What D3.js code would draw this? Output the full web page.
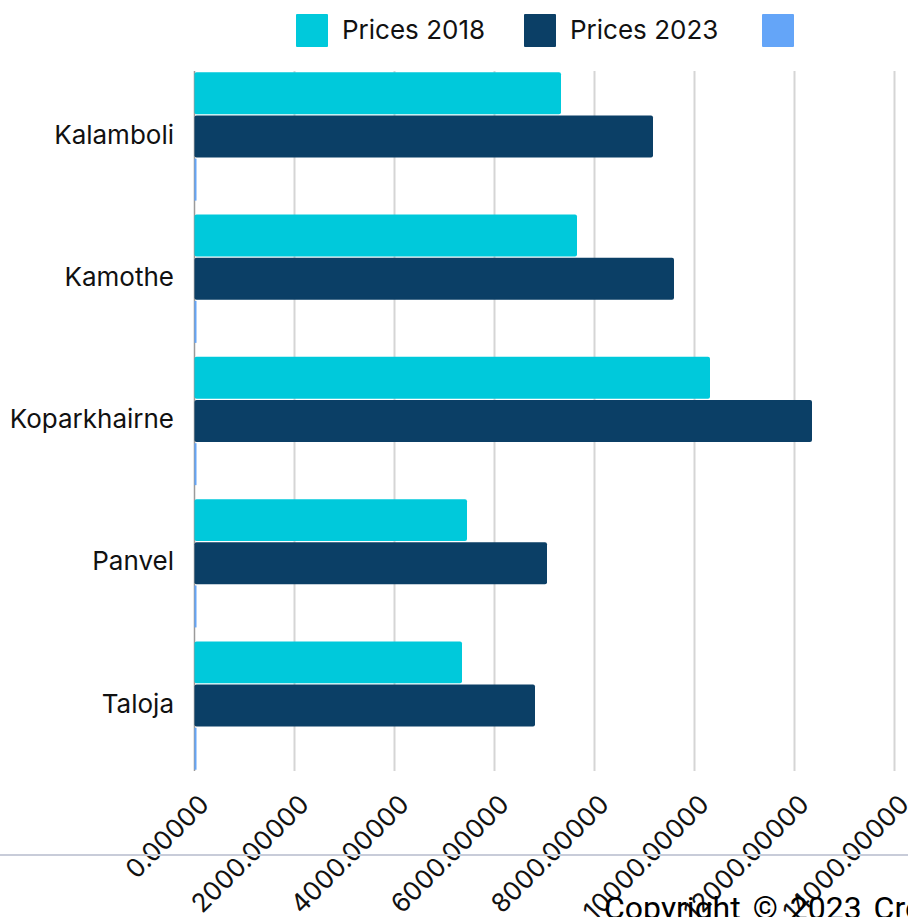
<!DOCTYPE html>
<html lang="en">
<head>
<meta charset="utf-8">
<style>
  body { margin: 0; background: #fff; overflow: hidden; }
  svg { display: block; font-family: "Inter", "Roboto", sans-serif; }
  .grid line { stroke: #d5d5d5; stroke-width: 2px; }
</style>
</head>
<body>
<svg width="908" height="917"></svg>
<script src="https://cdn.jsdelivr.net/npm/d3@7"></script>
<script>
// data
var locations = ["Kalamboli", "Kamothe", "Koparkhairne", "Panvel", "Taloja"];
var seriesNames = ["Prices 2018", "Prices 2023", ""];
var prices2018 = [7330, 7650, 10310, 5450, 5350];
var prices2023 = [9170, 9590, 12350, 7050, 6810];
var pricesOther = [40, 40, 40, 40, 40];
var xTicks = [0, 2000, 4000, 6000, 8000, 10000, 12000, 14000];
var colors = ["#00c9db", "#0b3f66", "#64a5f8"];

var svg = d3.select("svg");
var plotLeft = 194.5, plotRight = 894.5, plotTop = 71, plotBottom = 771;

var series = [prices2018, prices2023, pricesOther];

var x = d3.scaleLinear().domain([0, 14000]).range([plotLeft, plotRight]);
var y = d3.scaleBand().domain(locations).range([plotTop, plotBottom]).paddingInner(0.08).paddingOuter(0);
var ySub = d3.scaleBand().domain([0, 1, 2]).range([0, y.bandwidth()]).padding(0.03);

// grid
var grid = svg.append("g").attr("class", "grid");
grid.selectAll("line").data(xTicks.slice(1)).enter().append("line")
    .attr("x1", function (d) { return x(d); })
    .attr("x2", function (d) { return x(d); })
    .attr("y1", plotTop)
    .attr("y2", plotBottom);

// y axis line (under the bars)
svg.append("line")
    .attr("x1", x(0)).attr("x2", x(0))
    .attr("y1", plotTop).attr("y2", plotBottom)
    .attr("stroke", "#9a9a9a").attr("stroke-width", 1.5);

// bars
var groups = svg.append("g").selectAll("g").data(locations).enter().append("g")
    .attr("transform", function (d) { return "translate(0," + y(d) + ")"; });

groups.selectAll("rect")
    .data(function (d, i) { return series.map(function (s, k) { return {k: k, v: s[i]}; }); })
    .enter().append("rect")
    .attr("x", x(0))
    .attr("y", function (d) { return ySub(d.k); })
    .attr("height", ySub.bandwidth())
    .attr("width", function (d) { return x(d.v) - x(0); })
    .attr("rx", function (d) { return d.k < 2 ? 2 : 0; })
    .attr("fill", function (d) { return colors[d.k]; });

// y labels
svg.append("g").selectAll("text").data(locations).enter().append("text")
    .attr("x", 174)
    .attr("y", function (d) { return y(d) + y.bandwidth() / 2 - 2; })
    .attr("dy", "0.35em")
    .attr("text-anchor", "end")
    .attr("font-size", 26)
    .attr("fill", "#111")
    .text(function (d) { return d; });

// x tick labels
svg.append("g").selectAll("text").data(xTicks).enter().append("text")
    .attr("text-anchor", "end")
    .attr("font-size", 26)
    .attr("fill", "#111")
    .attr("transform", function (d) { return "translate(" + (x(d) + 16) + ",806) rotate(-45)"; })
    .text(function (d) { return d3.format(".5f")(d); });

// legend
var legendX = [296, 524, 762];
var legend = svg.append("g").selectAll("g").data(seriesNames).enter().append("g")
    .attr("transform", function (d, i) { return "translate(" + legendX[i] + ",14)"; });
legend.append("rect").attr("width", 32).attr("height", 33).attr("rx", 1)
    .attr("fill", function (d, i) { return colors[i]; });
legend.append("text").attr("x", 46).attr("y", 25)
    .attr("font-size", 26).attr("fill", "#111")
    .text(function (d) { return d; });

// footer
svg.append("line").attr("x1", 0).attr("x2", 908).attr("y1", 855).attr("y2", 855)
    .attr("stroke", "#c8ccd9").attr("stroke-width", 2);
svg.append("text").attr("x", 604).attr("y", 919)
    .attr("font-family", "Roboto, sans-serif").attr("font-size", 32)
    .attr("fill", "#000").attr("word-spacing", 4)
    .text("Copyright © 2023 Crest");
</script>
</body>
</html>
